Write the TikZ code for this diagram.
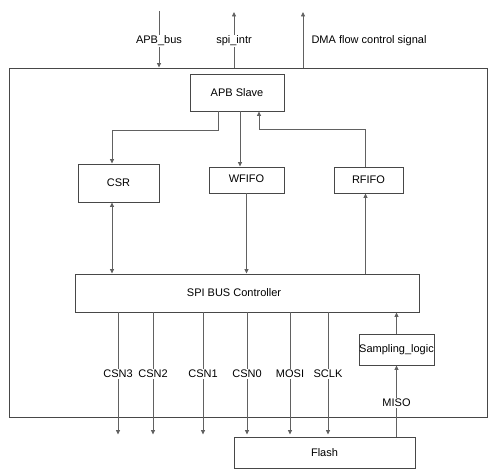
\documentclass[tikz,border=0pt]{standalone}
\usepackage{fontspec}
\setmainfont{Liberation Sans}
\usetikzlibrary{
        arrows.meta,
        calc,
        positioning
    }
\tikzset{>={Triangle[length=4.5pt,width=4pt]},shorten >=0pt}
\tikzset{block/.style={draw=black!72,line width=0.9pt,inner sep=0pt}}
\tikzset{wire/.style={draw=black!62,line width=0.8pt}}
\tikzset{sig/.style={fill=white,inner sep=1pt}}

\begin{document}
\begin{tikzpicture}[x=1pt,y=-1pt,font=\fontsize{11}{13}\selectfont]
                \useasboundingbox (0,0) rectangle (503,473);
                % blocks
                \node[block,minimum width=478pt,minimum height=349pt] (ip) at (248,242.5) {};
                \node[block,minimum width=94pt,minimum height=37pt] (apb) at (237,92.5) {APB Slave};
                \node[block,minimum width=81pt,minimum height=38pt] (csr) at (118.5,183) {CSR};
                \node[block,minimum width=75pt,minimum height=26pt] (wfifo) at (246.5,180) {\raisebox{2pt}{WFIFO}};
                \node[block,minimum width=69pt,minimum height=26pt] (rfifo) at (368.5,180) {RFIFO};
                \node[block,minimum width=344pt,minimum height=38pt,
                      label={[xshift=-13pt]center:SPI BUS Controller}] (spi) at (247,293) {};
                \node[block,minimum width=75pt,minimum height=31pt] (samp) at (396.5,349.5) {Sampling\_logic};
                \node[block,minimum width=181pt,minimum height=31pt] (flash) at (324.5,452.5) {Flash};
                % top signals
                \coordinate (apbin) at (159,11);
                \coordinate (intr) at (234,12);
                \coordinate (dma) at (303,12);
                \draw[wire,->] (apbin) -- (apbin |- ip.north) node[sig,pos=0.53] {APB\_bus};
                \draw[wire,->] (intr |- ip.north) -- (intr) node[sig,pos=0.48] {spi\_intr};
                \draw[wire,->] (dma |- ip.north) -- (dma);
                \node[anchor=west] (dmalbl) at (308,41) {DMA flow control signal};
                % inner connections
                \draw[wire,->] ([xshift=-18.5pt]apb.south) -- ++(0,19) -| ([xshift=-6.5pt]csr.north);
                \draw[wire,->] ([xshift=3pt]apb.south) -- ([xshift=3pt]apb.south |- wfifo.north);
                \draw[wire,->] ([xshift=-3pt]rfifo.north) -- ++(0,-37) -| ([xshift=22pt]apb.south);
                \draw[wire,<->] ([xshift=-6.5pt]csr.south) -- ([xshift=-6.5pt]csr.south |- spi.north);
                \draw[wire,->] (wfifo.south) -- (wfifo.south |- spi.north);
                \draw[wire,->] ([xshift=-3pt]rfifo.south |- spi.north) -- ([xshift=-3pt]rfifo.south);
                % spi pins
                \foreach \x/\pin in {118/CSN3,153/CSN2,203/CSN1,247/CSN0,290/MOSI,328/SCLK}{
                    \coordinate (p\pin) at (\x,374);
                    \draw[wire,->] (p\pin |- spi.south) -- ([yshift=2pt]p\pin |- flash.north);
                    \node[sig] at (p\pin) {\pin};
                }
                \coordinate (miso) at (396.5,401);
                \draw[wire,->] (miso |- flash.north) -- (samp.south) node[sig,pos=0.47] {MISO};
                \draw[wire,->] (samp.north) -- (samp.north |- spi.south);
            \end{tikzpicture}
\end{document}
